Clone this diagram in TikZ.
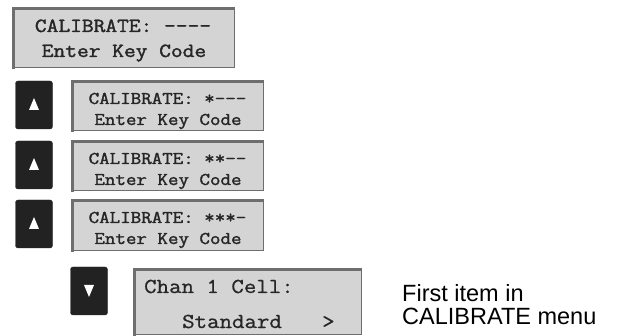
\documentclass[tikz,border=0pt]{standalone}
\usepackage{fontspec}
\setsansfont{Liberation Sans}
\newfontfamily\lcdbold{Latin Modern Mono}[FakeBold=1.6]
\newfontfamily\lcdmed{Latin Modern Mono}[FakeBold=0.8]
\definecolor{lcdfill}{HTML}{D4D4D4}
\definecolor{lcdedge}{HTML}{6E6E6E}
\definecolor{keyfill}{HTML}{222222}
\tikzset{
  lcd/.style={draw=lcdedge, line width=1pt, fill=lcdfill, inner sep=0pt},
  key/.style={draw=keyfill, fill=keyfill, rounded corners=2.5pt, inner sep=0pt, minimum width=37pt, minimum height=48pt},
  lcdtxt/.style={inner sep=0pt, anchor=base, yscale=0.88, text=black!85},
  lcdtxtl/.style={inner sep=0pt, anchor=base west, yscale=0.88, text=black!85},
  topfont/.style={font=\lcdbold\fontsize{22.8}{23}\selectfont},
  midfont/.style={font=\lcdbold\fontsize{20.4}{20}\selectfont},
  botfont/.style={font=\lcdmed\fontsize{24.2}{24}\selectfont},
  note/.style={inner sep=0pt, anchor=base west, font=\sffamily\fontsize{23.5}{23.5}\selectfont}
}
\newcommand{\lcdbox}[5]{% name, x1, y1, x2, y2
  \node[lcd, minimum width=#4-#2, minimum height=#5-#3, anchor=north west] (#1) at (#2,#3) {};
  \draw[lcdedge, line width=2.6pt] ([xshift=1.3pt,yshift=-1.3pt]#1.south west) -- ([xshift=1.3pt,yshift=-1.3pt]#1.north west) -- ([xshift=-0.5pt,yshift=-1.3pt]#1.north east);
}
\newcommand{\upkey}[3]{% name, cx, cy
  \node[key] (#1) at (#2,#3) {};
  \fill[white] ([xshift=-5pt,yshift=-5pt]#1.center) -- ([xshift=5pt,yshift=-5pt]#1.center) -- ([yshift=7pt]#1.center) -- cycle;
}
\newcommand{\downkey}[3]{%
  \node[key] (#1) at (#2,#3) {};
  \fill[white] ([xshift=-5pt,yshift=6pt]#1.center) -- ([xshift=5pt,yshift=6pt]#1.center) -- ([yshift=-6pt]#1.center) -- cycle;
}
\begin{document}
\begin{tikzpicture}[x=1pt,y=-1pt]
\useasboundingbox (0,0) rectangle (618,336);
% top display
\lcdbox{d0}{12}{7}{234}{67}
\node[lcdtxt, topfont] (d0a) at (123,32) {CALIBRATE: ----};
\node[lcdtxt, topfont] (d0b) at (124,57) {Enter Key Code};
% step 1
\upkey{k1}{34}{105}
\lcdbox{d1}{71}{80}{263}{130}
\node[lcdtxt, midfont] (d1a) at (167.5,104) {CALIBRATE: *---};
\node[lcdtxt, midfont] (d1b) at (168,125) {Enter Key Code};
% step 2
\upkey{k2}{34}{165}
\lcdbox{d2}{71}{140}{263}{190}
\node[lcdtxt, midfont] (d2a) at (167.5,164) {CALIBRATE: **--};
\node[lcdtxt, midfont] (d2b) at (168,185) {Enter Key Code};
% step 3
\upkey{k3}{34}{224}
\lcdbox{d3}{71}{199}{263}{250}
\node[lcdtxt, midfont] (d3a) at (167.5,223) {CALIBRATE: ***-};
\node[lcdtxt, midfont] (d3b) at (168,244) {Enter Key Code};
% step 4
\downkey{k4}{89}{291}
\lcdbox{d4}{133}{268}{361}{334}
\node[lcdtxtl, botfont] (d4a) at (144,293) {Chan 1 Cell:};
\node[lcdtxtl, botfont] (d4b) at (182,328) {Standard};
\node[lcdtxtl, botfont] (d4c) at (322,328) {>};
% note
\node[note] (n1) at (402,302) {First item in};
\node[note] (n2) at (402,325) {CALIBRATE menu};
\end{tikzpicture}
\end{document}
